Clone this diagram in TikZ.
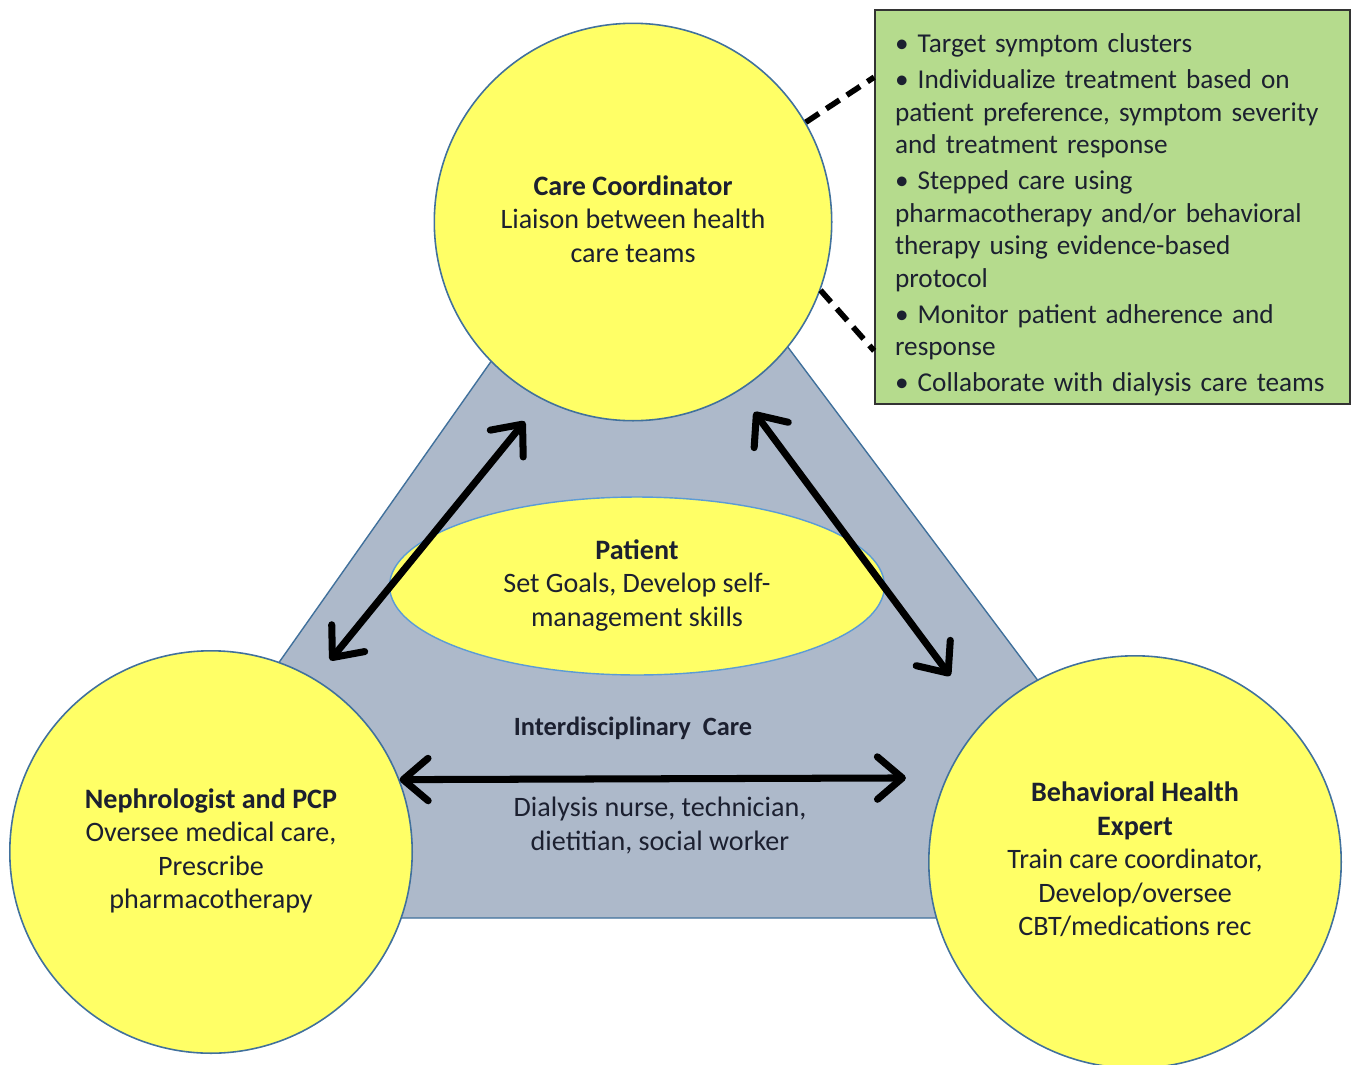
\documentclass[tikz,border=0pt]{standalone}
\usepackage{fontspec}
\setmainfont{Carlito}
\usepackage{tikz}
\usetikzlibrary{arrows.meta,shapes,positioning}
\definecolor{ccyellow}{RGB}{255,255,102}
\definecolor{ccblue}{RGB}{65,113,156}
\definecolor{cclightblue}{RGB}{91,155,213}
\definecolor{ccgray}{RGB}{173,185,202}
\definecolor{ccgreen}{RGB}{181,219,141}
\definecolor{cctext}{RGB}{28,32,48}
\tikzstyle{member} = [circle, draw=ccblue, fill=ccyellow, line width=0.9pt, text=cctext, font=\fontsize{16}{19}\selectfont]
\tikzstyle{link} = [line width=4pt, {Straight Barb[length=0.5cm,width=0.85cm,round]}-{Straight Barb[length=0.5cm,width=0.85cm,round]}, color=black]
\tikzstyle{callout} = [line width=3.2pt, dash pattern=on 9pt off 5pt, color=black]
\tikzstyle{tipbox} = [rectangle, draw=black!80, fill=ccgreen, line width=1pt, minimum width=9.5cm, minimum height=7.88cm, text width=8.7cm, align=left, text=cctext, font=\fontsize{15.5}{18.5}\selectfont]

\begin{document}
\begin{tikzpicture}[x=0.02cm, y=-0.02cm]
\useasboundingbox (0,0) rectangle (1356,1065);

% Care team triangle
\draw[fill=ccgray, draw=ccblue, line width=0.8pt] (99,918) -- (1216,918) -- (640,150) -- cycle;

% Patient
\node (patient) [ellipse, draw=cclightblue, fill=ccyellow, line width=0.8pt, minimum width=9.9cm, minimum height=3.56cm, text=cctext, font=\fontsize{16}{19}\selectfont] at (637,586) {
\begin{tabular}{c}
\textbf{Patient}\\
Set Goals, Develop self-\\
management skills
\end{tabular}
};

% Members
\node (coord) [member, minimum size=7.95cm] at (633,222) {
\begin{tabular}{c}
\textbf{Care Coordinator}\\
Liaison between health\\
care teams
\end{tabular}
};

\node (neph) [member, minimum size=8.05cm] at (211,852) {
\begin{tabular}{c}
\textbf{Nephrologist and PCP}\\
Oversee medical care,\\
Prescribe\\
pharmacotherapy
\end{tabular}
};

\node (behav) [member, minimum size=8.25cm] at (1135,862) {
\begin{tabular}{c}
\textbf{Behavioral Health}\\
\textbf{Expert}\\
Train care coordinator,\\
Develop/oversee\\
CBT/medications rec
\end{tabular}
};

% Labels
\node (idc) [text=cctext, font=\bfseries\fontsize{15}{18}\selectfont] at (633,728) {Interdisciplinary\ \ Care};
\node (team) [text=cctext, font=\fontsize{16}{19}\selectfont] at (660,827) {
\begin{tabular}{c}
Dialysis nurse, technician,\\
dietitian, social worker
\end{tabular}
};

% Arrows
\draw[link, shorten <=0.48cm, shorten >=0.56cm] (neph.59) -- (coord.243);
\draw[link, shorten <=0.52cm, shorten >=1.12cm] (coord.302) -- (behav.137);
\draw[link, shorten >=0.8cm] (neph.21) -- (behav.156);

% Callout
\node (tips) [tipbox] at (1112.5,207) {\rule{0pt}{20pt}\textbullet\ Target symptom clusters\\[2pt]
\textbullet\ Individualize treatment based on\\
patient preference, symptom severity\\
and treatment response\\[2pt]
\textbullet\ Stepped care using\\
pharmacotherapy and/or behavioral\\
therapy using evidence-based\\
protocol\\[2pt]
\textbullet\ Monitor patient adherence and\\
response\\[2pt]
\textbullet\ Collaborate with dialysis care teams
};
\draw[callout] (coord.30) -- ([yshift=-1.36cm]tips.north west);
\draw[callout] (coord.340) -- ([yshift=1.08cm]tips.south west);
\end{tikzpicture}
\end{document}
